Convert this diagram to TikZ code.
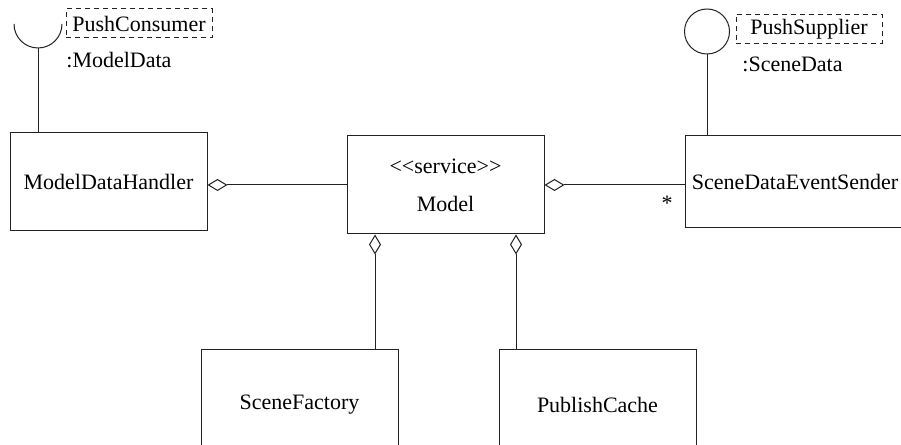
\documentclass[tikz,border=0pt]{standalone}
\usepackage{fontspec}
\setmainfont{Liberation Serif}
\usepackage{tikz}
\usetikzlibrary{arrows.meta, positioning, calc}
\definecolor{umlLine}{HTML}{222222}

\tikzset{
    classBox/.style={draw=umlLine, line width=0.5pt, rectangle, inner sep=0pt,
        minimum width=98.5pt, minimum height=49pt, align=center},
    ifaceName/.style={draw=umlLine, line width=0.5pt, dash pattern=on 2.5pt off 2pt,
        inner sep=0pt, minimum width=73pt, minimum height=14.5pt},
    aggregation/.style={draw=umlLine, line width=0.5pt,
        -{Diamond[open, length=10pt, width=6pt]}},
    wire/.style={draw=umlLine, line width=0.5pt}
}

\begin{document}
\begin{tikzpicture}[x=0.5pt, y=0.5pt, font=\fontsize{11}{13}\selectfont]
    \path[use as bounding box, clip] (0,0) rectangle (901,445);

    % Classes
    \node[classBox] (handler) at (108.5,263) {ModelDataHandler};
    \node[classBox] (model) at (445.5,260) {<{}<service>{}>\\[6pt]Model};
    \node[classBox, minimum width=110pt, minimum height=46pt] (sender) at (795,263) {SceneDataEventSender};
    \node[classBox, minimum height=55pt] (factory) at (299.5,40) {SceneFactory};
    \node[classBox, minimum height=55pt] (cache) at (597.5,40) {PublishCache};

    % Provided interface (lollipop)
    \node[draw=umlLine, line width=0.5pt, circle, inner sep=0pt, minimum size=22.5pt] (supplier) at (707,413.5) {};
    \node[ifaceName] (supplierName) at (809,416) {PushSupplier};
    \node[anchor=west, inner sep=0pt] (sceneData) at (742,381) {:SceneData};
    \draw[wire] (supplier.south) -- (supplier.south |- sender.north);

    % Required interface (socket)
    \coordinate (socket) at (38,397);
    \draw[wire] (14,421) arc[start angle=180, end angle=360, radius=12pt];
    \node[ifaceName] (consumerName) at (139,421.5) {PushConsumer};
    \node[anchor=west, inner sep=0pt] (modelData) at (66,385) {:ModelData};
    \draw[wire] (socket) -- (socket |- handler.north);

    % Aggregations
    \draw[aggregation] (model.west) -- (model.west -| handler.east);
    \draw[aggregation] (model.east -| sender.west) -- (model.east);
    \draw[aggregation] ([xshift=37.75pt]factory.north) -- ([xshift=37.75pt]factory.north |- model.south);
    \draw[aggregation] ([xshift=-40.75pt]cache.north) -- ([xshift=-40.75pt]cache.north |- model.south);

    % Multiplicity
    \node (many) at (667,242) {*};
\end{tikzpicture}
\end{document}
